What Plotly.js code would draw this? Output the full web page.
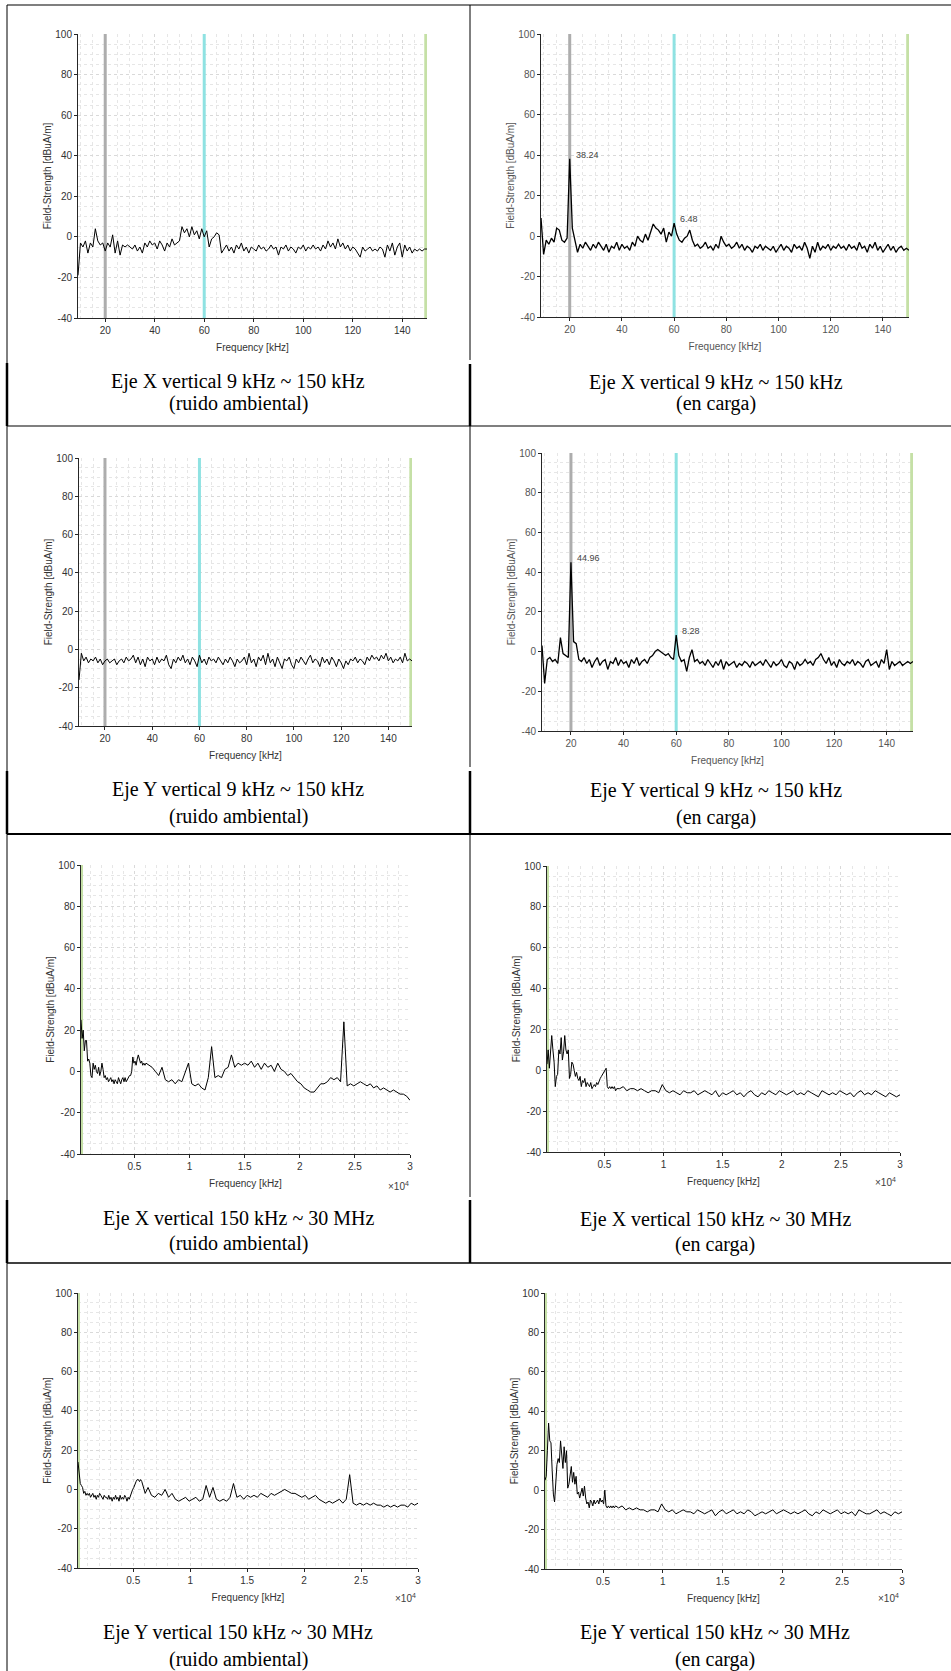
<!DOCTYPE html>
<html>
<head>
<meta charset="utf-8">
<script src="https://cdn.plot.ly/plotly-3.0.1.min.js"></script>
<style>
html,body{margin:0;padding:0;background:#ffffff;}
#chart{width:951px;height:1671px;}
</style>
</head>
<body>
<div id="chart"></div>
<script>
// ---------------- DATA ----------------
// Frequency grids (kHz)
const freqLowKHz = [
  9,10,11,12,13,14,15,16,17,18,
  19,20,21,22,23,24,25,26,27,28,
  29,30,31,32,33,34,35,36,37,38,
  39,40,41,42,43,44,45,46,47,48,
  49,50,51,52,53,54,55,56,57,58,
  59,60,61,62,63,64,65,66,67,68,
  69,70,71,72,73,74,75,76,77,78,
  79,80,81,82,83,84,85,86,87,88,
  89,90,91,92,93,94,95,96,97,98,
  99,100,101,102,103,104,105,106,107,108,
  109,110,111,112,113,114,115,116,117,118,
  119,120,121,122,123,124,125,126,127,128,
  129,130,131,132,133,134,135,136,137,138,
  139,140,141,142,143,144,145,146,147,148,
  149,150
];
const freqHighKHz = [
  150,250,350,450,550,650,750,850,950,1050,
  1150,1250,1350,1450,1550,1650,1750,1850,1950,2050,
  2150,2250,2350,2450,2550,2650,2750,2850,2950,3050,
  3150,3250,3350,3450,3550,3650,3750,3850,3950,4050,
  4150,4250,4350,4450,4550,4650,4750,4850,4950,5050,
  5150,5250,5350,5450,5550,5650,5750,5850,5950,6050,
  6300,6600,6900,7200,7500,7800,8100,8400,8700,9000,
  9300,9600,9900,10200,10500,10800,11100,11400,11700,12000,
  12300,12600,12900,13200,13500,13800,14100,14400,14700,15000,
  15300,15600,15900,16200,16500,16800,17100,17400,17700,18000,
  18300,18600,18900,19200,19500,19800,20100,20400,20700,21000,
  21300,21600,21900,22200,22500,22800,23100,23400,23700,24000,
  24300,24600,24900,25200,25500,25800,26100,26400,26700,27000,
  27300,27600,27900,28200,28500,28800,29100,29400,29700,30000
];

// Field strength (dBuA/m) — Eje X vertical 9 kHz ~ 150 kHz (ruido ambiental)
const ejeX_LF_ambiental = [
  -19,-3,-5,-2,-8,-3,-5,4,-2,-4,
  -3,-7,-3,-5,1,-8,-2,-9,-4,-5,
  -4,-5,-6,-4,-7,-5,-8,-3,-5,-2,
  -4,-3,-6,-2,-4,-7,-3,-5,-1,-4,
  -3,-2,5,2,4,0,5,1,3,-1,
  4,0,3,-5,-1,0,2,1,-8,-6,
  -4,-7,-5,-8,-4,-6,-3,-7,-5,-8,
  -5,-6,-7,-4,-6,-5,-7,-6,-4,-6,
  -5,-9,-5,-6,-4,-7,-5,-6,-8,-5,
  -6,-4,-7,-5,-6,-4,-6,-5,-7,-4,
  -6,-2,-5,-3,-6,-1,-5,-3,-6,-4,
  -7,-5,-6,-8,-10,-5,-7,-6,-5,-7,
  -6,-7,-5,-6,-10,-4,-7,-3,-9,-5,
  -3,-10,-4,-7,-5,-8,-6,-7,-6,-7,
  -6,-6
];
// Eje X vertical 9 kHz ~ 150 kHz (en carga)
const ejeX_LF_carga = [
  9,-9,-2,-4,-1,-3,4,3,-2,-3,
  -1,38.24,4,-2,-8,-4,-6,-3,-5,-7,
  -4,-6,-3,-5,-7,-4,-8,-5,-6,-3,
  -7,-4,-6,-5,-7,-3,-5,0,-2,-3,
  1,-2,2,6,4,3,1,4,-3,2,
  0,6.48,1,-2,-3,-1,0,3,-2,-5,
  -4,-6,-5,-3,-6,-5,-7,-4,-6,0,
  -3,-5,-4,-6,-5,-3,-6,-4,-7,-5,
  -6,-8,-5,-6,-4,-7,-5,-6,-7,-5,
  -8,-6,-4,-7,-5,-6,-8,-4,-6,-5,
  -7,-3,-6,-11,-5,-8,-3,-7,-5,-6,
  -4,-7,-5,-6,-4,-6,-5,-7,-4,-6,
  -5,-7,-3,-6,-5,-8,-4,-6,-3,-7,
  -5,-8,-6,-4,-7,-5,-8,-6,-5,-7,
  -6,-7
];
// Eje Y vertical 9 kHz ~ 150 kHz (ruido ambiental)
const ejeY_LF_ambiental = [
  -16,-2,-6,-4,-7,-5,-6,-4,-7,-5,
  -8,-6,-5,-7,-6,-5,-8,-6,-5,-7,
  -4,-6,-5,-3,-7,-4,-8,-5,-9,-4,
  -6,-5,-8,-4,-7,-5,-6,-3,-8,-10,
  -5,-7,-4,-6,-3,-7,-5,-8,-4,-6,
  -9,-3,-7,-5,-8,-4,-6,-5,-7,-4,
  -6,-8,-5,-7,-4,-6,-9,-5,-7,-6,
  -4,-8,-2,-7,-5,-9,-4,-6,-3,-8,
  -2,-7,-5,-9,-4,-7,-10,-5,-6,-4,
  -8,-10,-5,-7,-4,-6,-8,-5,-3,-7,
  -5,-6,-9,-4,-7,-5,-8,-4,-6,-9,
  -5,-7,-10,-6,-8,-5,-6,-4,-7,-5,
  -6,-8,-4,-6,-3,-5,-4,-6,-3,-5,
  -2,-6,-4,-7,-5,-6,-4,-7,-2,-6,
  -5,-6
];
// Eje Y vertical 9 kHz ~ 150 kHz (en carga)
const ejeY_LF_carga = [
  3,-16,-4,-3,-5,-4,-6,7,-1,-2,
  -3,44.96,5,4,-4,-5,-3,-6,-4,-8,
  -5,-3,-7,-5,-4,-9,-5,-6,-3,-7,
  -4,-6,-5,-8,-4,-6,-3,-7,-5,-4,
  -6,-3,-2,0,1,0,-1,-2,-1,-3,
  -4,8.28,-2,-5,-4,-10,-3,1,-5,-4,
  -6,-5,-7,-4,-6,-8,-5,-7,-4,-9,
  -5,-7,-6,-5,-8,-6,-7,-5,-6,-8,
  -5,-7,-6,-5,-7,-4,-6,-8,-5,-7,
  -6,-4,-7,-8,-5,-6,-9,-5,-7,-6,
  -4,-6,-5,-7,-4,-3,-1,-4,-6,-3,
  -7,-5,-8,-4,-6,-7,-5,-6,-4,-7,
  -5,-6,-8,-5,-4,-7,-6,-5,-8,-4,
  -6,1,-9,-5,-7,-6,-5,-7,-6,-5,
  -6,-5
];
// Eje X vertical 150 kHz ~ 30 MHz (ruido ambiental)
const ejeX_HF_ambiental = [
  25,16,20,10,15,15,5,6,4,-2,
  -3,4,1,3,0,-1,2,-2,0,4,
  1,-3,-2,-4,-3,-5,-4,-3,-5,-4,
  -6,-4,-5,-6,-3,-5,-6,-4,-3,-5,
  -3,-5,-4,-3,-2,-2,0,7,4,5,
  3,6,8,6,4,5,3,4,3,4,
  3,2,0,-2,2,-4,-5,-4,-6,-4,
  -5,0,4,-6,-7,-6,-8,-9,-3,12,
  -3,-2,-3,1,2,8,2,4,3,4,
  3,5,2,4,1,4,2,3,0,4,
  1,0,-2,-1,-3,-5,-6,-8,-9,-10,
  -10,-8,-6,-6,-5,-3,-4,-3,-5,24,
  -7,-6,-7,-6,-5,-6,-7,-6,-8,-7,
  -9,-8,-9,-10,-9,-10,-11,-11,-12,-14
];
// Eje X vertical 150 kHz ~ 30 MHz (en carga)
const ejeX_HF_carga = [
  3,10,1,12,17,10,4,-8,-3,-2,
  10,8,16,5,9,17,10,8,10,-4,
  -2,4,3,0,-3,-1,-4,-5,-3,-8,
  -5,-6,-4,-8,-6,-7,-8,-6,-9,-8,
  -7,-8,-6,-7,-5,-4,-3,-2,-1,0,
  1,-8,-9,-8,-9,-8,-9,-8,-10,-9,
  -9,-8,-10,-9,-9,-10,-9,-10,-11,-10,
  -10,-11,-7,-10,-11,-10,-11,-12,-10,-11,
  -11,-10,-12,-11,-10,-11,-12,-10,-13,-11,
  -12,-11,-10,-12,-11,-13,-11,-10,-12,-13,
  -11,-12,-10,-11,-12,-10,-11,-12,-11,-10,
  -12,-11,-12,-10,-11,-12,-13,-10,-11,-12,
  -11,-12,-10,-11,-12,-11,-13,-11,-10,-12,
  -11,-12,-10,-11,-12,-13,-11,-12,-13,-12
];
// Eje Y vertical 150 kHz ~ 30 MHz (ruido ambiental)
const ejeY_HF_ambiental = [
  14,7,3,2,1,-2,-1,-3,-2,-3,
  -2,-4,-3,-2,-4,-3,-5,-3,-4,-2,
  -3,-4,-5,-3,-4,-4,-5,-3,-5,-4,
  -6,-4,-5,-3,-5,-4,-6,-3,-5,-4,
  -5,-3,-4,-6,-4,-5,-3,-2,0,1,
  3,4,5,5,4,5,4,2,0,-2,
  1,-3,-4,-2,-3,0,-4,-2,-5,-6,
  -5,-4,-6,-5,-4,-6,-5,2,-4,1,
  -5,-6,-5,-6,-4,3,-4,-3,-5,-3,
  -4,-3,-4,-2,-3,-4,-2,-3,-2,-1,
  0,-1,-2,-2,-3,-4,-3,-5,-4,-3,
  -5,-6,-7,-6,-7,-6,-5,-7,-5,7.5,
  -7,-8,-7,-8,-7,-8,-7,-8,-8,-9,
  -8,-9,-8,-9,-8,-8,-9,-7,-8,-7
];
// Eje Y vertical 150 kHz ~ 30 MHz (en carga)
const ejeY_HF_carga = [
  5,7,20,34,25,24,10,-2,-6,5,
  13,16,14,25,15,11,22,14,20,1,
  3,8,12,4,9,3,7,-2,-1,-4,
  -2,1,-3,2,-4,-7,-6,-9,-5,-6,
  -8,-5,-7,-6,-5,-7,-4,-6,-5,-7,
  0,-8,-9,-8,-9,-8,-9,-8,-9,-8,
  -9,-8,-10,-9,-10,-9,-10,-10,-11,-10,
  -10,-11,-7,-10,-11,-10,-12,-11,-10,-11,
  -11,-12,-10,-11,-12,-11,-10,-13,-11,-10,
  -12,-11,-10,-12,-11,-12,-10,-11,-13,-12,
  -11,-12,-11,-10,-12,-11,-10,-11,-12,-11,
  -12,-11,-10,-12,-13,-11,-12,-10,-11,-12,
  -11,-10,-12,-11,-12,-11,-13,-10,-11,-12,
  -12,-11,-10,-12,-11,-12,-13,-11,-12,-11
];

// Reference frequency markers (kHz)
const markerLowFreqs  = [20, 60, 149.5];
const markerLowColors = ['#adadad', '#8fe2e2', '#c5e0a6'];
const markerHighFreqs = [150];
const markerHighColors = ['#c5e0a6'];

// Labelled peaks (kHz) in the "en carga" low-frequency panels
const peakFreqsLow = [20, 60];

// Axis ranges and tick labels
const yRange = [-40, 100];
const yTickVals = [-40, -20, 0, 20, 40, 60, 80, 100];
const yTickText = ['-40', '-20', '0', '20', '40', '60', '80', '100'];
const lowTickVals = [20, 40, 60, 80, 100, 120, 140];
const lowTickText = ['20', '40', '60', '80', '100', '120', '140'];
const highTickVals = [5000, 10000, 15000, 20000, 25000, 30000];
const highTickText = ['0.5', '1', '1.5', '2', '2.5', '3'];

// Captions
const captionTitles = [
  'Eje X vertical 9 kHz ~ 150 kHz', 'Eje X vertical 9 kHz ~ 150 kHz',
  'Eje Y vertical 9 kHz ~ 150 kHz', 'Eje Y vertical 9 kHz ~ 150 kHz',
  'Eje X vertical 150 kHz ~ 30 MHz', 'Eje X vertical 150 kHz ~ 30 MHz',
  'Eje Y vertical 150 kHz ~ 30 MHz', 'Eje Y vertical 150 kHz ~ 30 MHz'
];
const captionConditions = [
  '(ruido ambiental)', '(en carga)', '(ruido ambiental)', '(en carga)',
  '(ruido ambiental)', '(en carga)', '(ruido ambiental)', '(en carga)'
];
const xAxisTitle = 'Frequency [kHz]';
const yAxisTitle = 'Field-Strength [dBuA/m]';

// ---------------- LAYOUT ----------------
const W = 951, H = 1671;
const fx = p => p / W;
const fy = p => 1 - p / H;
const SANS = 'Liberation Sans, Arial, Helvetica, sans-serif';
const SERIF = 'Liberation Serif, Times New Roman, Times, serif';

const seriesList = [ejeX_LF_ambiental, ejeX_LF_carga, ejeY_LF_ambiental, ejeY_LF_carga,
                    ejeX_HF_ambiental, ejeX_HF_carga, ejeY_HF_ambiental, ejeY_HF_carga];
// plot boxes in pixels [left, top, right, bottom]
const boxes = [
  [78, 34, 427, 318], [541, 34, 909, 317],
  [79, 458, 412, 726], [542, 453, 913, 731],
  [81, 865, 410, 1154], [547, 866, 900, 1152],
  [78, 1293, 418, 1568], [545, 1293, 902, 1569]
];
const capX  = [238, 716, 238, 716, 238, 715, 238, 715];
const capY1 = [382, 383, 789, 790, 1218, 1219, 1632, 1632];
const capY2 = [403, 403, 816, 817, 1243, 1244, 1659, 1659];
const expPos = [null, null, null, null, [398, 1186], [885, 1182], [405, 1598], [888, 1598]];

const layout = {
  width: W, height: H,
  margin: {l: 0, r: 0, t: 0, b: 0},
  paper_bgcolor: '#ffffff', plot_bgcolor: '#ffffff',
  showlegend: false,
  font: {family: SANS, size: 10, color: '#262626'},
  annotations: [], shapes: []
};
const traces = [];

boxes.forEach((b, i) => {
  const n = i === 0 ? '' : String(i + 1);
  const xr = 'x' + n, yr = 'y' + n;
  const isLow = i < 4;
  const blurred = (i === 1 || i === 3);
  const tickColor = blurred ? '#555555' : '#333333';
  const xs = isLow ? freqLowKHz : freqHighKHz;
  const ys = seriesList[i];

  layout['xaxis' + n] = {
    domain: [fx(b[0]), fx(b[2])], anchor: yr,
    range: isLow ? [9, 150] : [150, 30000],
    tickmode: 'array',
    tickvals: isLow ? lowTickVals : highTickVals,
    ticktext: isLow ? lowTickText : highTickText,
    showline: true, linecolor: '#262626', linewidth: 1,
    ticks: 'outside', ticklen: 3, tickcolor: '#262626',
    tickfont: {family: SANS, size: 10, color: tickColor},
    showgrid: true, gridcolor: '#d9d9d9', griddash: 'dot', gridwidth: 1,
    zeroline: false, automargin: false, fixedrange: true,
    minor: {tickmode: 'linear', tick0: 0, dtick: isLow ? 5 : 1000, showgrid: true,
            gridcolor: '#e6e6e6', griddash: 'dot', gridwidth: 1, ticks: ''},
    title: {text: xAxisTitle, font: {family: SANS, size: 10, color: tickColor}, standoff: 8}
  };

  layout['yaxis' + n] = {
    domain: [fy(b[3]), fy(b[1])], anchor: xr,
    range: yRange,
    tickmode: 'array', tickvals: yTickVals, ticktext: yTickText,
    showline: true, linecolor: '#262626', linewidth: 1,
    ticks: 'outside', ticklen: 3, tickcolor: '#262626',
    tickfont: {family: SANS, size: 10, color: tickColor},
    showgrid: true, gridcolor: '#d9d9d9', griddash: 'dot', gridwidth: 1,
    zeroline: false, automargin: false, fixedrange: true,
    minor: {tickmode: 'linear', tick0: 0, dtick: 5, showgrid: true,
            gridcolor: '#e6e6e6', griddash: 'dot', gridwidth: 1, ticks: ''},
    title: {text: yAxisTitle, font: {family: SANS, size: 10, color: tickColor}, standoff: 1}
  };

  // reference frequency marker lines (drawn as line traces over the grid, under the data)
  const mf = isLow ? markerLowFreqs : markerHighFreqs;
  const mc = isLow ? markerLowColors : markerHighColors;
  mf.forEach((f, k) => {
    traces.push({type: 'scatter', mode: 'lines', x: [f, f], y: yRange, xaxis: xr, yaxis: yr,
      line: {color: mc[k], width: isLow ? 3 : 4}, hoverinfo: 'skip'});
  });

  traces.push({type: 'scatter', mode: 'lines', x: xs, y: ys, xaxis: xr, yaxis: yr,
    line: {color: '#000000', width: blurred ? 1.3 : 1}, hoverinfo: 'skip'});

  // peak labels
  if (blurred) {
    peakFreqsLow.forEach(f => {
      const idx = xs.indexOf(f);
      const v = ys[idx];
      layout.annotations.push({xref: xr, yref: yr, x: f, y: v, text: v.toFixed(2),
        showarrow: false, xanchor: 'left', yanchor: 'middle', xshift: 4, yshift: 4,
        font: {family: SANS, size: 9, color: '#444444'}});
    });
  }

  // x10^4 exponent label
  if (expPos[i]) {
    layout.annotations.push({xref: 'paper', yref: 'paper', x: fx(expPos[i][0]), y: fy(expPos[i][1]),
      text: '×10<sup>4</sup>', showarrow: false, xanchor: 'center', yanchor: 'middle',
      font: {family: SANS, size: 10, color: '#404040'}});
  }

  // captions
  layout.annotations.push({xref: 'paper', yref: 'paper', x: fx(capX[i]), y: fy(capY1[i]),
    text: captionTitles[i], showarrow: false, xanchor: 'center', yanchor: 'middle',
    font: {family: SERIF, size: 20, color: '#000000'}});
  layout.annotations.push({xref: 'paper', yref: 'paper', x: fx(capX[i]), y: fy(capY2[i]),
    text: captionConditions[i], showarrow: false, xanchor: 'center', yanchor: 'middle',
    font: {family: SERIF, size: 20, color: '#000000'}});
});

// table borders (pixel geometry of the page layout)
const borders = [
  [7, 5, 951, 5, 1.2],
  [7, 5, 7, 1671, 1],
  [7, 363, 7, 426, 2.5], [7, 771, 7, 834, 2.5], [7, 1200, 7, 1263, 2.5],
  [470, 5, 470, 360, 1], [470, 426, 470, 767, 1], [470, 834, 470, 1197, 1],
  [470, 364, 470, 426, 2.5], [470, 771, 470, 834, 2.5], [470, 1200, 470, 1263, 2.5],
  [7, 426, 951, 426, 1.2], [7, 834, 951, 834, 1.8], [7, 1263, 951, 1263, 1.5]
];
borders.forEach(l => {
  layout.shapes.push({type: 'line', xref: 'paper', yref: 'paper',
    x0: fx(l[0]), y0: fy(l[1]), x1: fx(l[2]), y1: fy(l[3]),
    line: {color: '#000000', width: l[4]}, layer: 'above'});
});

Plotly.newPlot('chart', traces, layout, {staticPlot: true, displayModeBar: false});
</script>
</body>
</html>
